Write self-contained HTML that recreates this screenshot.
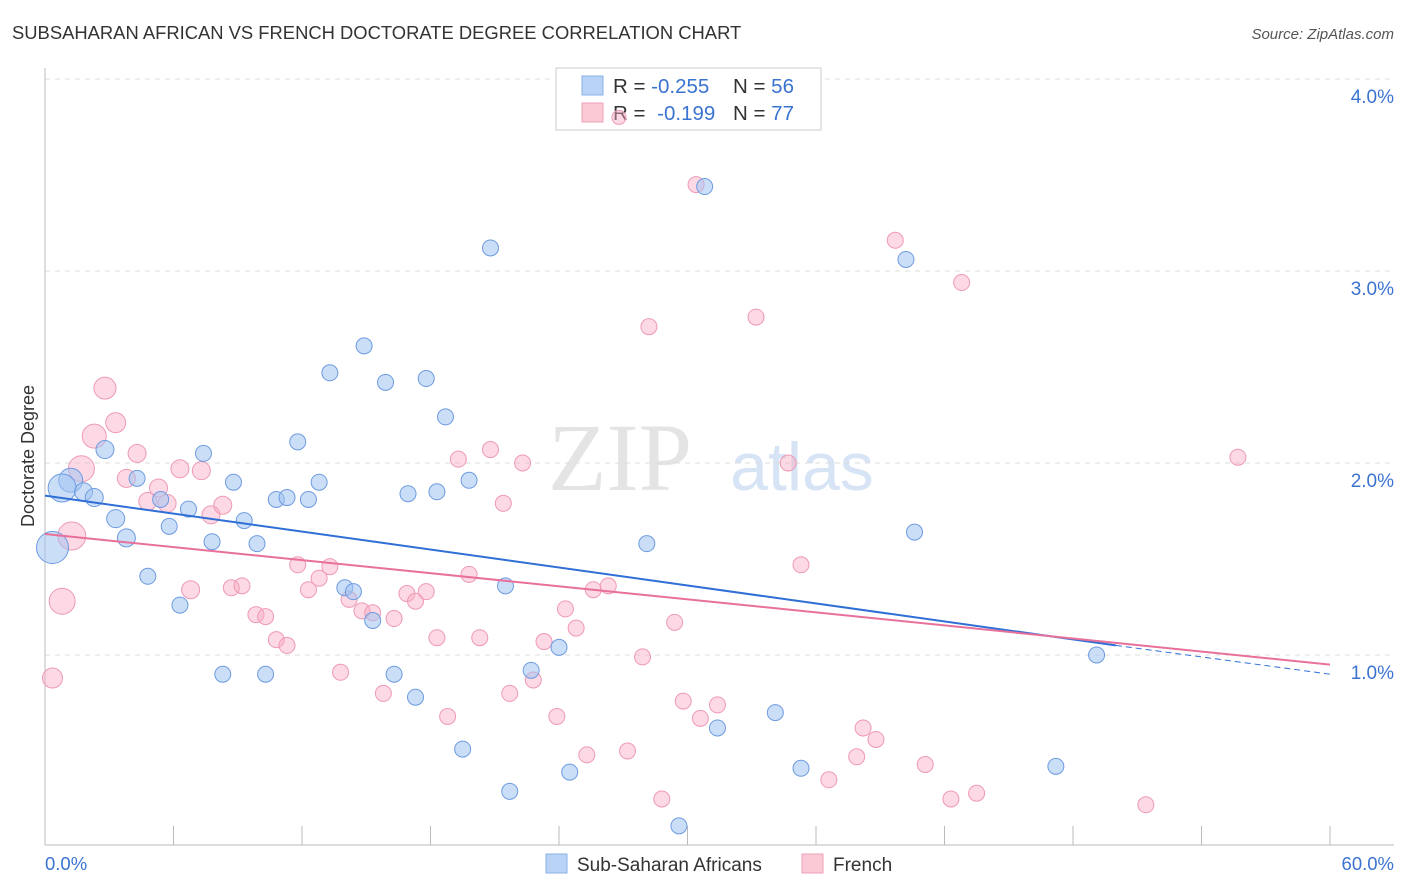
<!DOCTYPE html>
<html><head><meta charset="utf-8">
<style>
body{margin:0;background:#fff;font-family:"Liberation Sans",sans-serif;}
svg{display:block}
</style></head>
<body>
<svg id="chart" width="1406" height="892" xmlns="http://www.w3.org/2000/svg">
<text x="12" y="39" font-size="18.4" fill="#333">SUBSAHARAN AFRICAN VS FRENCH DOCTORATE DEGREE CORRELATION CHART</text>
<text x="1394" y="39" font-size="15" fill="#555" text-anchor="end" font-style="italic">Source: ZipAtlas.com</text>
<text x="620" y="490" font-size="96" fill="#e4e4e4" font-family="Liberation Serif,serif" text-anchor="middle">ZIP</text>
<text x="802" y="490" font-size="68" fill="#d6e4f5" text-anchor="middle">atlas</text>
<g id="grid"></g>
<g id="axes"></g>
<g>
<rect x="556" y="68" width="265" height="62" fill="#fff" stroke="#ccc"/>
<rect x="582" y="76" width="21" height="19" fill="#b8d3f5" stroke="#8ab0e6"/>
<rect x="582" y="103" width="21" height="19" fill="#fbc8d6" stroke="#f0a0b8"/>
<text x="613" y="93" font-size="20.5" fill="#333">R = <tspan fill="#3b73d1">-0.255</tspan><tspan x="733">N = </tspan><tspan fill="#3b73d1">56</tspan></text>
<text x="613" y="120" font-size="20.5" fill="#333">R = <tspan fill="#3b73d1" dx="6">-0.199</tspan><tspan x="733">N = </tspan><tspan fill="#3b73d1">77</tspan></text>
</g>
<g id="marks"></g>
<text x="34" y="456" font-size="18" fill="#333" text-anchor="middle" transform="rotate(-90 34 456)">Doctorate Degree</text>
<text x="45" y="870" font-size="18.5" fill="#3b73d1">0.0%</text>
<text x="1394" y="870" font-size="18.5" fill="#3b73d1" text-anchor="end">60.0%</text>
<g>
<rect x="546" y="854" width="21" height="19" fill="#b8d3f5" stroke="#8ab0e6"/>
<text x="577" y="871" font-size="19" fill="#333">Sub-Saharan Africans</text>
<rect x="802" y="854" width="21" height="19" fill="#fbc8d6" stroke="#f0a0b8"/>
<text x="833" y="871" font-size="19" fill="#333">French</text>
</g>
</svg>
<script>
const yTicks=[1,2,3,4];
const yTickLabels=["1.0%","2.0%","3.0%","4.0%"];
const xTicks=[0,6,12,18,24,30,36,42,48,54,60];
const blueX=[0.35,1.2,0.8,1.8,2.3,2.8,3.3,3.8,4.3,4.8,5.4,5.8,6.3,6.7,7.4,7.8,8.3,8.8,9.3,9.9,10.3,10.8,11.3,11.8,12.3,12.8,13.3,14.0,14.4,14.9,15.3,15.9,16.3,16.95,17.3,17.8,18.3,18.7,19.5,19.8,20.8,21.5,21.7,22.7,24.0,24.5,28.1,29.6,30.8,31.4,34.1,35.3,40.2,40.6,47.2,49.1];
const blueY=[1.56,1.91,1.87,1.85,1.82,2.07,1.71,1.61,1.92,1.41,1.81,1.67,1.26,1.76,2.05,1.59,0.90,1.90,1.70,1.58,0.90,1.81,1.82,2.11,1.81,1.90,2.47,1.35,1.33,2.61,1.18,2.42,0.90,1.84,0.78,2.44,1.85,2.24,0.51,1.91,3.12,1.36,0.29,0.92,1.04,0.39,1.58,0.11,3.44,0.62,0.70,0.41,3.06,1.64,0.42,1.00];
const blueR=[16,12,14,9,9,9,9,9,8,8,8,8,8,8,8,8,8,8,8,8,8,8,8,8,8,8,8,8,8,8,8,8,8,8,8,8,8,8,8,8,8,8,8,8,8,8,8,8,8,8,8,8,8,8,8,8];
const pinkX=[0.35,0.8,1.25,1.7,2.3,2.8,3.3,3.8,4.3,4.8,5.3,5.7,6.3,6.8,7.3,7.75,8.3,8.7,9.2,9.85,10.3,10.8,11.3,11.8,12.3,12.8,13.3,13.8,14.2,14.8,15.3,15.8,16.3,16.9,17.3,17.8,18.3,18.8,19.3,19.8,20.3,20.8,21.4,21.7,22.3,22.8,23.3,23.9,24.3,24.8,25.3,25.6,26.3,27.2,27.9,28.2,28.8,29.4,29.8,30.4,30.6,31.4,33.2,34.7,35.3,36.6,37.9,38.2,38.8,39.7,41.1,42.3,42.8,43.5,51.4,55.7,26.8];
const pinkY=[0.88,1.28,1.62,1.97,2.14,2.39,2.21,1.92,2.05,1.80,1.87,1.79,1.97,1.34,1.96,1.73,1.78,1.35,1.36,1.21,1.20,1.08,1.05,1.47,1.34,1.40,1.46,0.91,1.29,1.23,1.22,0.80,1.19,1.32,1.28,1.33,1.09,0.68,2.02,1.42,1.09,2.07,1.79,0.80,2.00,0.87,1.07,0.68,1.24,1.14,0.48,1.34,1.36,0.50,0.99,2.71,0.25,1.17,0.76,3.45,0.67,0.74,2.76,2.00,1.47,0.35,0.47,0.62,0.56,3.16,0.43,0.25,2.94,0.28,0.22,2.03,3.80];
const pinkR=[10,13,14,13,12,11,10,9,9,9,9,9,9,9,9,9,9,8,8,8,8,8,8,8,8,8,8,8,8,8,8,8,8,8,8,8,8,8,8,8,8,8,8,8,8,8,8,8,8,8,8,8,8,8,8,8,8,8,8,8,8,8,8,8,8,8,8,8,8,8,8,8,8,8,8,8,7];
const blueTrend=[[0,1.83],[50,1.05],[60,0.9]];
const pinkTrend=[[0,1.63],[60,0.95]];

const X=v=>45+v/60*1285;
const Y=v=>847-v*192;
const NS="http://www.w3.org/2000/svg";
function mk(tag,attrs,parent){const e=document.createElementNS(NS,tag);for(const k in attrs)e.setAttribute(k,attrs[k]);parent.appendChild(e);return e;}
const grid=document.getElementById('grid'),axes=document.getElementById('axes'),marks=document.getElementById('marks');
yTicks.forEach((t,i)=>{
  const l=mk('line',{x1:45,x2:1394,y1:Y(t),y2:Y(t),stroke:'#ddd','stroke-dasharray':'5,5'},grid);
  
  
  const tx=mk('text',{x:1394,y:Y(t)+24,'font-size':19,fill:'#3b73d1','text-anchor':'end'},grid);
  tx.textContent=yTickLabels[i];
  
  
});
const ax=mk('line',{x1:45,x2:45,y1:68,y2:845,stroke:'#bbb'},axes);


const bx=mk('line',{x1:45,x2:1394,y1:845,y2:845,stroke:'#bbb'},axes);


xTicks.forEach(t=>{
  const l=mk('line',{x1:X(t),x2:X(t),y1:826,y2:845,stroke:'#bbb'},axes);
  
  
});
pinkX.forEach((v,i)=>{
  const c=mk('circle',{cx:X(v),cy:Y(pinkY[i]),r:pinkR[i],fill:'rgba(248,170,195,0.45)',stroke:'#ef9ab5','stroke-width':1},marks);
  
  
});
blueX.forEach((v,i)=>{
  const c=mk('circle',{cx:X(v),cy:Y(blueY[i]),r:blueR[i],fill:'rgba(160,195,240,0.55)',stroke:'#6d9be0','stroke-width':1},marks);
  
  
});
const b1=mk('line',{x1:X(blueTrend[0][0]),y1:Y(blueTrend[0][1]),x2:X(blueTrend[1][0]),y2:Y(blueTrend[1][1]),stroke:'#2f6fd6','stroke-width':2},marks);


const b2=mk('line',{x1:X(blueTrend[1][0]),y1:Y(blueTrend[1][1]),x2:X(blueTrend[2][0]),y2:Y(blueTrend[2][1]),stroke:'#2f6fd6','stroke-width':1,'stroke-dasharray':'6,4'},marks);


const p1=mk('line',{x1:X(pinkTrend[0][0]),y1:Y(pinkTrend[0][1]),x2:X(pinkTrend[1][0]),y2:Y(pinkTrend[1][1]),stroke:'#e8709a','stroke-width':2},marks);


</script>
</body></html>
